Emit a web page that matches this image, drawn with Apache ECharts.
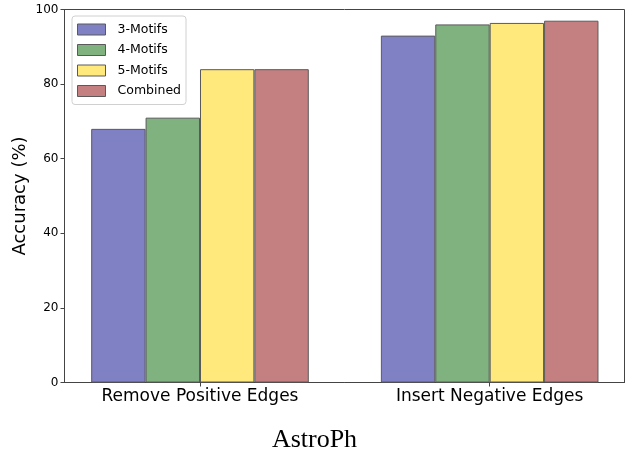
<!DOCTYPE html>
<html style="height: 100%">
<head>
<meta charset="utf-8">
<script src="https://cdn.jsdelivr.net/npm/echarts@6/dist/echarts.min.js"></script>
</head>
<body style="width: 100%; height: 100%; margin: 0; background: #fff;">
<div id="container" style="width: 629px; height: 450px;"></div>
<script type="text/javascript">
	var groups = ['Remove Positive Edges', 'Insert Negative Edges'];
	var seriesNames = ['3-Motifs', '4-Motifs', '5-Motifs', 'Combined'];
	var motif3 = [68, 93];
	var motif4 = [71, 96];
	var motif5 = [84, 96.4];
	var combined = [84, 97];
	var colors = ['#8080c4', '#80b280', '#ffe87c', '#c48080'];

	var allValues = [motif3, motif4, motif5, combined];
	var groupPos = groups.map(function (g, i) { return i; });

	var myChart = echarts.init(document.getElementById('container'), null, { renderer: 'canvas' });

	var series = seriesNames.map(function (name, k) {
		return {
			name: name,
			type: 'bar',
			barWidth: 54.4,
			barGap: '0%',
			data: groupPos.map(function (i) { return [i, allValues[k][i]]; }),
			itemStyle: {
				color: colors[k],
				borderColor: '#5a5a5a',
				borderWidth: 1
			},
			emphasis: { disabled: true }
		};
	});

	var option = {
		animation: false,
		textStyle: { fontFamily: 'DejaVu Sans' },
		title: {
			text: 'AstroPh',
			left: 'center',
			top: 422,
			textStyle: {
				fontFamily: 'Liberation Serif',
				fontWeight: 'normal',
				fontSize: 26,
				color: '#000'
			}
		},
		legend: {
			data: seriesNames,
			orient: 'vertical',
			left: 72,
			top: 16,
			icon: 'rect',
			itemWidth: 28,
			itemHeight: 11,
			itemGap: 7.5,
			padding: [7, 5, 7, 5],
			backgroundColor: '#fff',
			borderColor: '#d0d0d0',
			borderWidth: 1,
			borderRadius: 3,
			textStyle: { fontSize: 12.5, color: '#000', fontFamily: 'DejaVu Sans', padding: [0, 0, 0, 7] },
			itemStyle: { borderColor: '#5a5a5a', borderWidth: 1 }
		},
		grid: {
			left: 64.5,
			right: 4.5,
			top: 9.5,
			bottom: 67.5,
			show: true,
			borderColor: '#444',
			borderWidth: 1
		},
		xAxis: {
			type: 'value',
			min: -0.4677,
			max: 1.4654,
			axisLine: { onZero: false, lineStyle: { color: '#444' } },
			splitLine: { show: false },
			axisTick: { show: true, length: 4, customValues: groupPos, lineStyle: { color: '#444' } },
			axisLabel: {
				customValues: groupPos,
				formatter: function (v) { return groups[v]; },
				fontSize: 17,
				color: '#000',
				margin: 6
			}
		},
		yAxis: {
			type: 'value',
			min: 0,
			max: 100,
			interval: 20,
			name: 'Accuracy (%)',
			nameLocation: 'middle',
			nameGap: 35,
			nameMoveOverlap: false,
			nameTextStyle: { fontSize: 18, color: '#000' },
			axisLine: { show: true, onZero: false, lineStyle: { color: '#444' } },
			axisTick: { show: true, length: 4, lineStyle: { color: '#444' } },
			splitLine: { show: false },
			axisLabel: { fontSize: 12, color: '#000', margin: 6 }
		},
		series: series
	};
	myChart.setOption(option);
</script>
</body>
</html>
